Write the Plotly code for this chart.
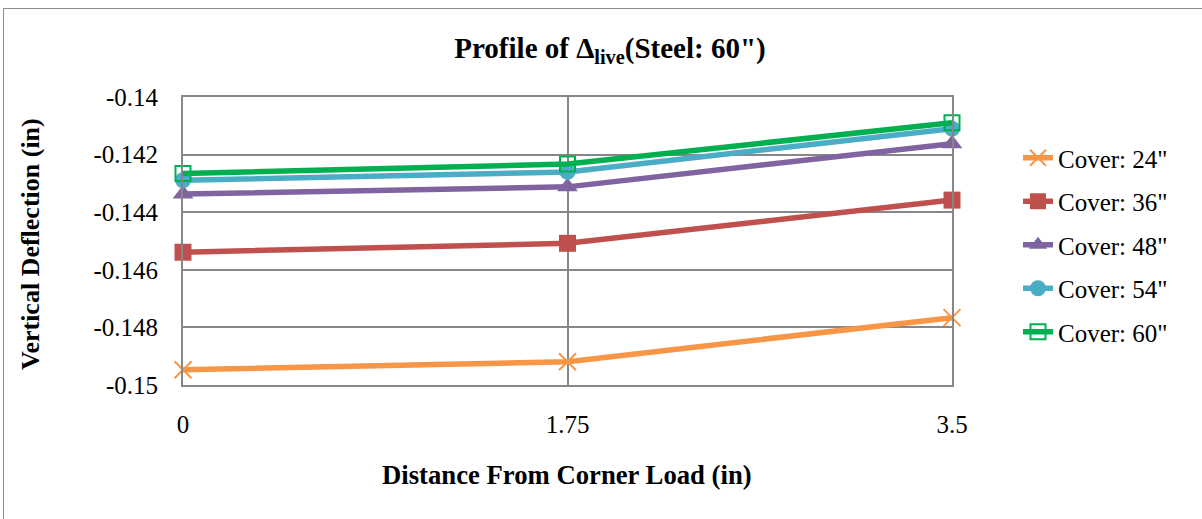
import plotly.graph_objects as go

# ---- data ----
x_vals = [0, 1.75, 3.5]
x_ticktext = ["0", "1.75", "3.5"]
y_tickvals = [-0.14, -0.142, -0.144, -0.146, -0.148, -0.15]
y_ticktext = ["-0.14", "-0.142", "-0.144", "-0.146", "-0.148", "-0.15"]

series_names = ['Cover: 24"', 'Cover: 36"', 'Cover: 48"', 'Cover: 54"', 'Cover: 60"']
cover_24 = [-0.14947, -0.14919, -0.14766]
cover_36 = [-0.14539, -0.14508, -0.14358]
cover_48 = [-0.14337, -0.14312, -0.14162]
cover_54 = [-0.14289, -0.14260, -0.14110]
cover_60 = [-0.14266, -0.14233, -0.14089]

series_values = [cover_24, cover_36, cover_48, cover_54, cover_60]
colors = ["#F79646", "#C0504D", "#8064A2", "#4BACC6", "#00B050"]
symbols = ["x-thin", "square", "triangle-up", "circle", "square-open"]
sizes = [17, 17, 18, 16, 15]

FONT = "Liberation Serif"
GRID = "#878787"

fig = go.Figure()
for i, (name, vals) in enumerate(zip(series_names, series_values)):
    marker = dict(symbol=symbols[i], size=sizes[i], color=colors[i])
    if symbols[i] in ("x-thin", "square-open"):
        marker["line"] = dict(color=colors[i], width=2)
    fig.add_trace(go.Scatter(
        x=x_vals, y=vals, name=name, mode="lines+markers",
        line=dict(color=colors[i], width=5.5),
        marker=marker, cliponaxis=False, legendgroup=f"g{i}",
    ))

W, H = 1202, 519
L, R, T, B = 183, 250, 97, 134
pw, ph = W - L - R, H - T - B

def px2x(px):
    return (px - L) / pw

def py2y(py):
    return (H - B - py) / ph

fig.update_layout(
    width=W, height=H, autosize=False,
    margin=dict(l=L, r=R, t=T, b=B, pad=0),
    paper_bgcolor="white", plot_bgcolor="white",
    font=dict(family=FONT, size=25, color="black"),
    title=dict(
        text='<b>Profile of Δ<sub>live</sub>(Steel: 60")</b>',
        x=610 / W, xref="container", xanchor="center",
        y=1 - 48 / H, yref="container", yanchor="middle",
        font=dict(family=FONT, size=29, color="black"),
    ),
    xaxis=dict(
        range=[0, 3.5], tickvals=x_vals, ticktext=x_ticktext,
        showgrid=True, gridcolor=GRID, gridwidth=1.5,
        showline=True, linecolor=GRID, linewidth=2, mirror=True,
        zeroline=False, ticks="", ticklabelstandoff=16,
        tickfont=dict(family=FONT, size=25),
    ),
    yaxis=dict(
        range=[-0.15, -0.14], tickvals=y_tickvals, ticktext=y_ticktext,
        showgrid=True, gridcolor=GRID, gridwidth=1.5,
        showline=True, linecolor=GRID, linewidth=2, mirror=True,
        zeroline=False, ticks="", ticklabelstandoff=18,
        tickfont=dict(family=FONT, size=25),
    ),
    legend=dict(
        x=px2x(1018), xanchor="left", y=py2y(135), yanchor="top",
        font=dict(family=FONT, size=25), tracegroupgap=8,
        bgcolor="rgba(0,0,0,0)", borderwidth=0,
    ),
    showlegend=True,
)

fig.add_annotation(
    text="<b>Distance From Corner Load (in)</b>", showarrow=False,
    xref="paper", yref="paper", x=px2x(567), y=py2y(475),
    xanchor="center", yanchor="middle", font=dict(family=FONT, size=26.7),
)
fig.add_annotation(
    text="<b>Vertical Deflection (in)</b>", showarrow=False, textangle=-90,
    xref="paper", yref="paper", x=px2x(30), y=py2y(244),
    xanchor="center", yanchor="middle", font=dict(family=FONT, size=26),
)

# outer chart border
fig.add_shape(
    type="rect", xref="paper", yref="paper",
    x0=px2x(3.5), x1=px2x(1210), y0=py2y(530), y1=py2y(8.5),
    line=dict(color="#8c8c8c", width=1), fillcolor="rgba(0,0,0,0)", layer="below",
)

fig.write_html("out.html")
